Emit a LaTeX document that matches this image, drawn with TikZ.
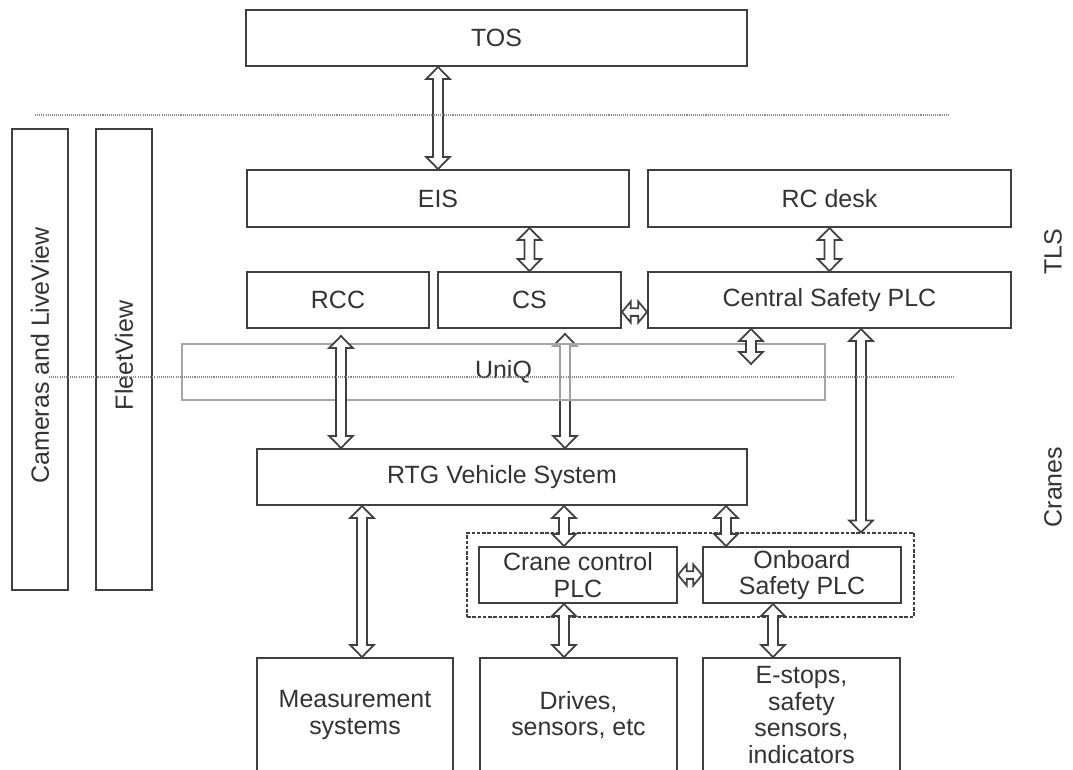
\documentclass[tikz,border=0pt]{standalone}
\usepackage{fontspec}
\setmainfont{Liberation Sans}
\usetikzlibrary{calc}

\definecolor{boxline}{HTML}{404040}
\definecolor{boxtext}{HTML}{333333}
\definecolor{dotline}{HTML}{8A8A8A}
\definecolor{uniqline}{HTML}{A6A6A6}

\tikzset{
	box/.style={draw=boxline, line width=1.1pt, inner sep=0pt, text=boxtext, align=center, font=\fontsize{14.2}{15}\selectfont},
	wh/.style 2 args={minimum width=#1*0.02cm, minimum height=#2*0.02cm},
	lbl/.style={text=boxtext, inner sep=0pt, rotate=90, font=\fontsize{14.2}{15}\selectfont},
	link/.style={draw=boxline, fill=white, line width=1pt, line join=miter},
	sep/.style={draw=dotline, line width=0.7pt, dash pattern=on 0.6pt off 0.6pt},
}

% hollow double arrow, vertical: x and start from #1, end height from #2
\newcommand\vlink[2]{\path[link] let \p1=(#1), \p2=(#2) in
	(\x1,\y1) -- (\x1+6.7pt,\y1-6.8pt) -- (\x1+2.8pt,\y1-6.8pt) -- (\x1+2.8pt,\y2+6.8pt) -- (\x1+6.7pt,\y2+6.8pt) -- (\x1,\y2)
	-- (\x1-6.7pt,\y2+6.8pt) -- (\x1-2.8pt,\y2+6.8pt) -- (\x1-2.8pt,\y1-6.8pt) -- (\x1-6.7pt,\y1-6.8pt) -- cycle;}
% hollow double arrow, horizontal: y and start from #1, end from #2
\newcommand\hlink[2]{\path[link] let \p1=(#1), \p2=(#2) in
	(\x1,\y1) -- (\x1+5pt,\y1+6pt) -- (\x1+5pt,\y1+2.2pt) -- (\x2-5pt,\y1+2.2pt) -- (\x2-5pt,\y1+6pt) -- (\x2,\y1)
	-- (\x2-5pt,\y1-6pt) -- (\x2-5pt,\y1-2.2pt) -- (\x1+5pt,\y1-2.2pt) -- (\x1+5pt,\y1-6pt) -- cycle;}

\begin{document}
\begin{tikzpicture}[x=0.02cm, y=-0.02cm]
		%%%%% START %%%%%
		\useasboundingbox (0,0) rectangle (1073,769);
		\clip (0,0) rectangle (1073,769);
		
		\node[box, wh={501}{56}] (tos) at (496.5,38) {TOS};
		
		\node[box, wh={382}{57}] (eis) at (438,198.5) {EIS};
		\node[box, wh={363}{57}] (rcdesk) at (829.5,198.5) {RC desk};
		
		\node[box, wh={182}{56}] (rcc) at (338,300) {RCC};
		\node[box, wh={183}{56}] (cs) at (529.5,300) {CS};
		\node[box, wh={363}{56}] (csplc) at (829.5,300) {Central Safety PLC};
		
		\node[box, wh={56}{461}] (cams) at (40,359.5) {};
		\node[lbl] at ($(cams)+(0,-4)$) {Cameras and LiveView};
		\node[box, wh={56}{461}] (fleet) at (124,359.5) {};
		\node[lbl] at ($(fleet)+(0,-4)$) {FleetView};
		
		\node[box, wh={490}{56}] (rtg) at (502,477) {RTG Vehicle System};
		
		\node[box, wh={447}{84}, line width=0.6pt, dash pattern=on 2pt off 1pt] (cranebox) at (690.5,575) {};
		\node[box, wh={198}{56}] (ccplc) at (578,575) {Crane control\\PLC};
		\node[box, wh={198}{56}] (obplc) at (802,575) {Onboard\\Safety PLC};
		
		\node[box, wh={196}{114}] (meas) at (355,715) {Measurement\\systems};
		\node[box, wh={197}{114}] (drives) at (578.5,715) {Drives,\\sensors, etc};
		\node[box, wh={197}{114}] (estops) at (801.5,715) {E-stops,\\safety\\sensors,\\indicators};
		
		\node[lbl] (tls) at (1053,252) {TLS};
		\node[lbl] (cranes) at (1053,487) {Cranes};
		
		% CS link runs under the UniQ band
		\vlink{$(cs.south)+(35.5,5)$}{rtg.north}
		\node[box, wh={643}{56}, draw=uniqline, line width=0.6pt, fill=white, fill opacity=0.5, text opacity=1] (uniq) at (503.5,372) {UniQ};
		
		\coordinate (uniqend) at (751,364);
		
		\vlink{tos.south -| eis.north}{eis.north}
		\vlink{eis.south -| cs.north}{cs.north}
		\vlink{rcdesk.south}{csplc.north}
		\hlink{$(cs.east)+(0,12)$}{csplc.west}
		\vlink{$(rcc.south)+(3,7)$}{rtg.north}
		\vlink{$(csplc.south)+(-78.5,0)$}{uniqend}
		\vlink{$(csplc.south)+(31.5,0)$}{cranebox.north}
		
		\vlink{$(rtg.south)+(62,0)$}{ccplc.north}
		\vlink{$(rtg.south)+(224,0)$}{obplc.north}
		\hlink{ccplc.east}{obplc.west}
		
		\vlink{$(rtg.south)+(-140,0)$}{meas.north}
		\vlink{$(ccplc.south)+(-14,0)$}{drives.north}
		\vlink{$(obplc.south)+(-29,0)$}{estops.north}
		
		\draw[sep] (35,115) -- (950,115);
		\draw[sep] (49,377) -- (954,377);
		%%%%% END %%%%%
\end{tikzpicture}
\end{document}
